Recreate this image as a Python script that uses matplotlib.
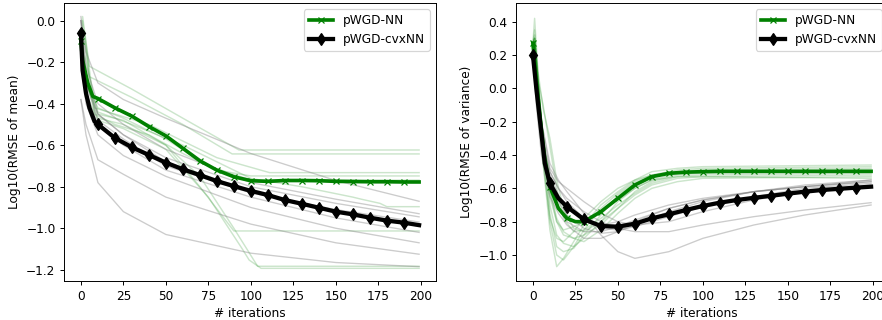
import matplotlib
matplotlib.use("Agg")
import matplotlib.pyplot as plt

# ---- left panel: log10 RMSE of mean ----
mean_nn_it = [0, 1, 4, 7, 10, 20, 30, 40, 50, 60, 70, 80, 90, 100, 110, 120,
              130, 140, 150, 160, 170, 180, 190, 199]
mean_nn = [-0.10, -0.19, -0.30, -0.365, -0.375, -0.42, -0.46, -0.51, -0.555,
           -0.615, -0.675, -0.72, -0.752, -0.771, -0.774, -0.770, -0.770,
           -0.771, -0.774, -0.775, -0.776, -0.776, -0.777, -0.777]

mean_cvx_it = [0, 1, 3, 5, 8, 10, 20, 30, 40, 50, 60, 70, 80, 90, 100, 110, 120,
               130, 140, 150, 160, 170, 180, 190, 199]
mean_cvx = [-0.06, -0.24, -0.35, -0.42, -0.485, -0.50, -0.565, -0.61, -0.647,
            -0.684, -0.716, -0.744, -0.773, -0.797, -0.82, -0.84, -0.864,
            -0.882, -0.901, -0.92, -0.933, -0.949, -0.963, -0.973, -0.985]

# individual pWGD-NN runs (green, faint)
mean_nn_runs_x = [
    [0, 1, 5, 30, 60, 93, 199],
    [0, 1, 5, 30, 60, 89, 199],
    [0, 2, 8, 20, 40, 60, 80, 111, 199],
    [0, 2, 8, 20, 40, 60, 80, 100, 199],
    [0, 3, 10, 30, 60, 100, 130, 160, 165, 176, 180, 199],
    [0, 3, 10, 25, 50, 70, 90, 199],
    [0, 3, 10, 25, 50, 70, 90, 104, 199],
    [0, 3, 10, 25, 50, 75, 95, 99, 106, 199],
    [0, 3, 10, 25, 50, 75, 100, 199],
]
mean_nn_runs_y = [
    [-0.10, 0.02, -0.22, -0.33, -0.47, -0.623, -0.623],
    [-0.10, 0.00, -0.27, -0.37, -0.50, -0.642, -0.642],
    [-0.10, -0.05, -0.42, -0.45, -0.50, -0.58, -0.66, -0.732, -0.732],
    [-0.10, -0.10, -0.45, -0.50, -0.55, -0.64, -0.72, -0.748, -0.748],
    [-0.10, -0.20, -0.44, -0.50, -0.60, -0.76, -0.80, -0.85, -0.86, -0.88, -0.896, -0.896],
    [-0.10, -0.30, -0.45, -0.48, -0.60, -0.80, -1.013, -1.013],
    [-0.10, -0.30, -0.47, -0.50, -0.60, -0.75, -1.00, -1.183, -1.183],
    [-0.10, -0.35, -0.48, -0.52, -0.62, -0.85, -1.10, -1.153, -1.193, -1.193],
    [-0.10, -0.30, -0.42, -0.47, -0.57, -0.70, -0.768, -0.768],
]

# individual pWGD-cvxNN runs (grey, faint)
mean_cvx_runs_x = [0, 3, 10, 25, 50, 100, 150, 199]
mean_cvx_runs_y = [
    [-0.38, -0.55, -0.78, -0.92, -1.03, -1.12, -1.165, -1.185],
    [-0.38, -0.50, -0.67, -0.74, -0.85, -0.98, -1.07, -1.125],
    [-0.20, -0.40, -0.55, -0.65, -0.75, -0.90, -1.00, -1.07],
    [-0.10, -0.35, -0.50, -0.60, -0.72, -0.85, -0.95, -1.02],
    [0.00, -0.30, -0.45, -0.55, -0.68, -0.82, -0.92, -0.99],
    [-0.05, -0.30, -0.48, -0.57, -0.70, -0.83, -0.91, -0.97],
    [0.00, -0.25, -0.45, -0.55, -0.66, -0.80, -0.88, -0.945],
    [0.02, -0.22, -0.40, -0.50, -0.62, -0.78, -0.86, -0.93],
    [0.00, -0.15, -0.30, -0.38, -0.47, -0.64, -0.77, -0.87],
]

# ---- right panel: log10 RMSE of variance ----
var_nn_it = [0, 2, 5, 7, 10, 15, 20, 25, 30, 40, 50, 60, 70, 80, 90, 100, 110,
             120, 130, 140, 150, 160, 170, 180, 190, 199]
var_nn = [0.27, 0.05, -0.25, -0.42, -0.59, -0.72, -0.78, -0.80, -0.80, -0.74,
          -0.66, -0.58, -0.53, -0.51, -0.503, -0.50, -0.498, -0.498, -0.498,
          -0.498, -0.498, -0.498, -0.498, -0.498, -0.498, -0.498]

var_cvx_it = [0, 2, 5, 7, 10, 15, 20, 30, 40, 50, 60, 70, 80, 90, 100, 110, 120,
              130, 140, 150, 160, 170, 180, 190, 199]
var_cvx = [0.20, 0.00, -0.27, -0.45, -0.57, -0.66, -0.71, -0.786, -0.826, -0.83,
           -0.812, -0.78, -0.756, -0.73, -0.706, -0.686, -0.67, -0.657, -0.645,
           -0.632, -0.62, -0.61, -0.603, -0.596, -0.59]

var_nn_runs_x = [0, 1, 3, 6, 10, 14, 18, 24, 30, 40, 50, 60, 70, 85, 100, 199]
var_nn_runs_y = [
    [0.27, 0.42, 0.10, -0.45, -0.85, -1.07, -1.02, -0.92, -0.82, -0.70, -0.62, -0.55, -0.50, -0.48, -0.47, -0.46],
    [0.27, 0.35, 0.05, -0.40, -0.80, -1.00, -1.03, -0.95, -0.85, -0.72, -0.63, -0.56, -0.52, -0.49, -0.48, -0.47],
    [0.27, 0.30, 0.00, -0.35, -0.75, -0.95, -0.98, -0.96, -0.88, -0.76, -0.64, -0.57, -0.53, -0.50, -0.49, -0.48],
    [0.27, 0.30, 0.05, -0.30, -0.70, -0.88, -0.93, -0.95, -0.90, -0.80, -0.68, -0.60, -0.55, -0.51, -0.50, -0.49],
    [0.27, 0.25, -0.05, -0.35, -0.65, -0.80, -0.88, -0.90, -0.88, -0.82, -0.72, -0.62, -0.56, -0.52, -0.51, -0.50],
    [0.27, 0.28, 0.05, -0.10, -0.35, -0.60, -0.78, -0.86, -0.85, -0.78, -0.70, -0.63, -0.57, -0.53, -0.52, -0.51],
    [0.27, 0.30, 0.10, -0.12, -0.30, -0.55, -0.72, -0.84, -0.86, -0.80, -0.72, -0.64, -0.58, -0.54, -0.53, -0.52],
    [0.27, 0.32, 0.05, -0.30, -0.60, -0.78, -0.86, -0.90, -0.92, -0.85, -0.75, -0.66, -0.60, -0.56, -0.54, -0.53],
    [0.27, 0.26, -0.10, -0.45, -0.78, -0.90, -0.92, -0.86, -0.78, -0.68, -0.60, -0.55, -0.52, -0.50, -0.50, -0.50],
    [0.27, 0.30, 0.05, -0.30, -0.62, -0.80, -0.85, -0.83, -0.80, -0.74, -0.67, -0.60, -0.55, -0.53, -0.53, -0.54],
]

var_cvx_runs_x = [0, 2, 5, 10, 15, 20, 30, 40, 50, 60, 80, 100, 130, 160, 199]
var_cvx_runs_y = [
    [0.20, 0.05, -0.20, -0.45, -0.55, -0.62, -0.75, -0.88, -0.98, -1.02, -0.98, -0.90, -0.82, -0.76, -0.70],
    [0.20, 0.00, -0.30, -0.50, -0.60, -0.66, -0.74, -0.80, -0.84, -0.86, -0.86, -0.82, -0.77, -0.73, -0.686],
    [0.20, 0.00, -0.30, -0.55, -0.68, -0.76, -0.84, -0.87, -0.86, -0.82, -0.74, -0.68, -0.62, -0.58, -0.55],
    [0.20, -0.05, -0.35, -0.60, -0.72, -0.80, -0.86, -0.86, -0.83, -0.79, -0.72, -0.67, -0.62, -0.59, -0.56],
    [0.20, 0.00, -0.25, -0.50, -0.60, -0.68, -0.78, -0.84, -0.85, -0.83, -0.77, -0.71, -0.65, -0.60, -0.57],
    [0.20, 0.05, -0.20, -0.48, -0.56, -0.60, -0.68, -0.75, -0.80, -0.82, -0.80, -0.74, -0.67, -0.62, -0.58],
    [0.20, -0.10, -0.40, -0.65, -0.75, -0.82, -0.90, -0.90, -0.86, -0.80, -0.72, -0.67, -0.62, -0.59, -0.56],
    [0.20, 0.00, -0.30, -0.52, -0.64, -0.72, -0.80, -0.82, -0.80, -0.76, -0.70, -0.66, -0.62, -0.59, -0.55],
]


def marks(it):
    return [i for i, x in enumerate(it) if x % 10 == 0 and x < 200]


def draw_panel(ax, nn_rx, nn_ry, cvx_rx, cvx_ry, nn_it, nn, cvx_it, cvx, ylabel, ylim):
    for i, ys in enumerate(nn_ry):
        xs = nn_rx[i] if isinstance(nn_rx[0], list) else nn_rx
        ax.plot(xs, ys, color="green", alpha=0.2, lw=1.2)
    for ys in cvx_ry:
        ax.plot(cvx_rx, ys, color="gray", alpha=0.4, lw=1.1)
    ax.plot(nn_it, nn, color="green", lw=3, marker="x", ms=5,
            markevery=marks(nn_it), label="pWGD-NN")
    ax.plot(cvx_it, cvx, color="black", lw=3.5, marker="d", ms=7,
            markevery=marks(cvx_it), label="pWGD-cvxNN")
    ax.set_xlim(-9.95, 208.95)
    ax.set_ylim(*ylim)
    ax.set_xticks([0, 25, 50, 75, 100, 125, 150, 175, 200])
    ax.set_xlabel("# iterations")
    ax.set_ylabel(ylabel)
    ax.legend(loc="upper right")


# figure was rendered at a reduced dpi, so text and lines are a bit smaller
fig = plt.figure(figsize=(882 / 87.5, 320 / 87.5), dpi=87.5)
ax1 = fig.add_axes([64 / 882, 39 / 320, 372 / 882, 278 / 320])
ax2 = fig.add_axes([516 / 882, 39 / 320, 372 / 882, 278 / 320])

draw_panel(ax1, mean_nn_runs_x, mean_nn_runs_y, mean_cvx_runs_x, mean_cvx_runs_y,
           mean_nn_it, mean_nn, mean_cvx_it, mean_cvx,
           "Log10(RMSE of mean)", (-1.254, 0.085))
draw_panel(ax2, var_nn_runs_x, var_nn_runs_y, var_cvx_runs_x, var_cvx_runs_y,
           var_nn_it, var_nn, var_cvx_it, var_cvx,
           "Log10(RMSE of variance)", (-1.156, 0.512))

fig.savefig("out.png", dpi=87.5)
